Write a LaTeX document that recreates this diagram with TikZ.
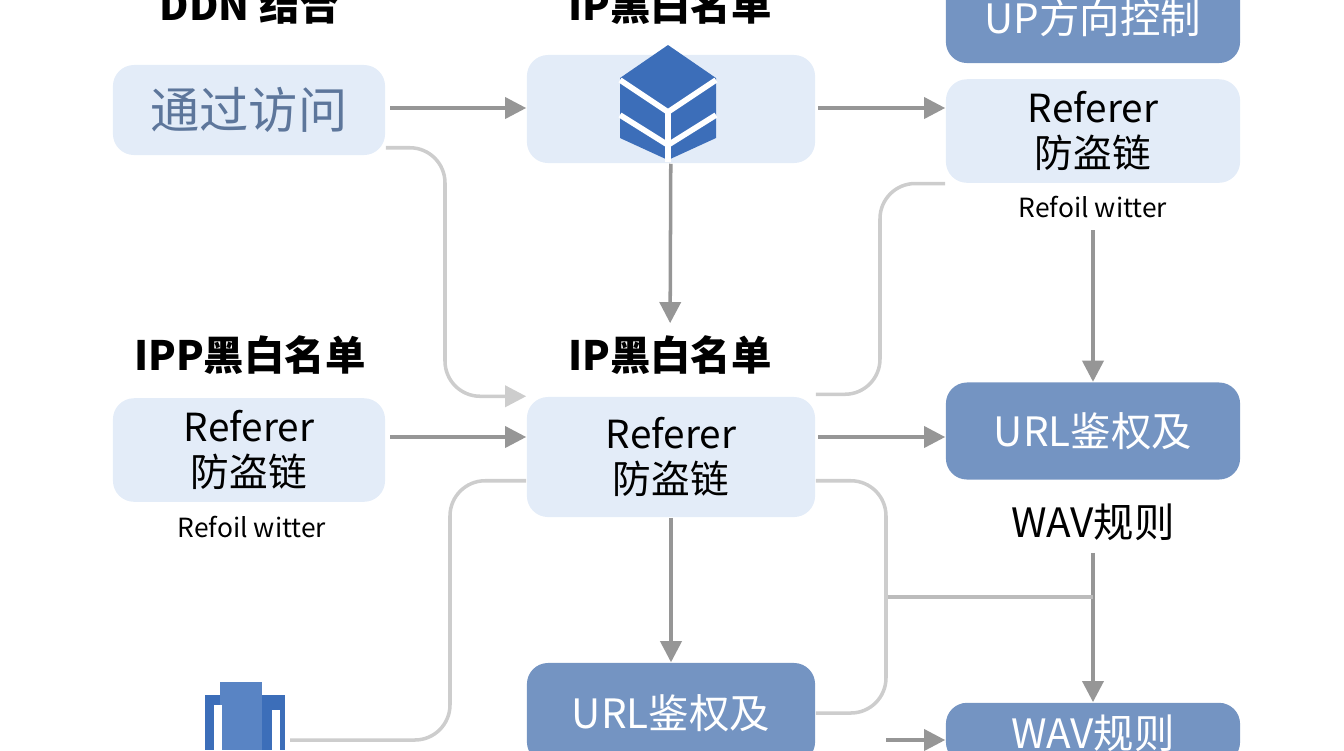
\documentclass[tikz,border=0pt]{standalone}
\usepackage{fontspec}
\setmainfont{Noto Sans CJK SC}
\usetikzlibrary{positioning,arrows.meta}
\definecolor{myligh}{RGB}{227,236,248}
\definecolor{mydark}{RGB}{116,148,194}
\definecolor{myblue}{RGB}{60,110,185}
\definecolor{myarrow}{RGB}{150,150,150}
\definecolor{myline}{RGB}{205,205,205}
\begin{document}
\begin{tikzpicture}[x=0.01cm,y=-0.01cm,
  lbox/.style={fill=myligh,rounded corners=6pt,minimum width=2.72cm,align=center,font=\fontsize{11}{13}\selectfont},
  dbox/.style={fill=mydark,rounded corners=6pt,minimum width=2.94cm,text=white,align=center,font=\fontsize{11.5}{13}\selectfont},
  ttl/.style={font=\fontsize{11.5}{13}\selectfont\bfseries},
  sub/.style={font=\fontsize{7.5}{9}\selectfont},
  arr/.style={myarrow,line width=1pt,-{Triangle[length=6pt,width=6pt]}},
  lin/.style={myline,line width=1pt,rounded corners=10pt}]
  \useasboundingbox (0,0) rectangle (1344,750);

  % titles
  \node[ttl] (t1) at (250,5) {DDN 结合};
  \node[ttl] (t2) at (670,5) {IP黑白名单};
  \node[ttl] (t3) at (250,355) {IPP黑白名单};
  \node[ttl] (t4) at (670,355) {IP黑白名单};

  % boxes
  \node[lbox,minimum height=0.9cm,text=mydark!80!black,font=\fontsize{14}{15}\selectfont] (a) at (249,110) {通过访问};
  \node[lbox,minimum width=2.88cm,minimum height=1.08cm] (b) at (671,109) {};
  \node[dbox,minimum height=0.9cm] (c) at (1093,18) {UP方向控制};
  \node[lbox,minimum width=2.94cm,minimum height=1.03cm] (d) at (1093,131) {Referer\\防盗链};
  \node[sub] (s1) at (1093,207) {Refoil witter};
  \node[lbox,minimum height=0.73cm] (e) at (249,450) {Referer\\防盗链};
  \node[sub] (s2) at (252,527) {Refoil witter};
  \node[lbox,minimum width=2.88cm,minimum height=1.2cm] (f) at (671,457) {Referer\\防盗链};
  \node[dbox,minimum height=0.97cm] (g) at (1093,431) {URL鉴权及};
  \node[ttl,font=\fontsize{11.5}{13}\selectfont] (s3) at (1093,522) {WAV规则};
  \node[dbox,minimum width=2.88cm,minimum height=1.0cm] (h) at (671,713) {URL鉴权及};
  \node[dbox,minimum height=0.6cm] (i) at (1093,733) {WAV规则};

  % cube icon
  \fill[myblue] (668,45) -- (716,78) -- (716,138) -- (668,160) -- (620,138) -- (620,78) -- cycle;
  \draw[white,line width=1.6pt] (620,80) -- (668,112) -- (716,80) (668,112) -- (668,162)
    (620,115) -- (668,145) -- (716,115);

  % document icon
  \fill[myblue] (205,695) rectangle (285,750);
  \fill[myblue!85!white] (220,682) rectangle (262,750);
  \fill[white] (214,705) rectangle (222,750);
  \fill[white] (272,710) rectangle (280,750);

  % arrows
  \draw[arr] (390,108) coordinate (p1) -- (p1 -| b.west);
  \draw[arr] (818,108) coordinate (p2) -- (p2 -| d.west);
  \draw[arr] (b) -- (t4);
  \draw[arr] (390,437) coordinate (p3) -- (p3 -| f.west);
  \draw[arr] (818,437) coordinate (p4) -- (p4 -| g.west);
  \draw[arr] (s1) -- (g);
  \draw[arr] (f) -- (h);
  \draw[arr] (s3) -- (i);
  \coordinate (k) at (1093,597);
  \coordinate (m) at (886,597);
  \draw[myline!70!myarrow,line width=1pt] (m) -- (k);

  % light connectors
  \draw[lin,-{Triangle[length=6pt,width=6pt]}] (a.south east) ++(0,-8) -| (445,300) |- (f.north west);
  \draw[lin] (f.north east) ++(0,-2) -| (880,300) |- (d.south west);
  \draw[lin] (f.south west) ++(0,-37) -| (450,600) |- (290,740);
  \draw[lin] (f.south east) ++(0,-37) -| (m) |- (h.east);
  \draw[arr] (886,740) coordinate (p5) -- (p5 -| i.west);
\end{tikzpicture}
\end{document}
